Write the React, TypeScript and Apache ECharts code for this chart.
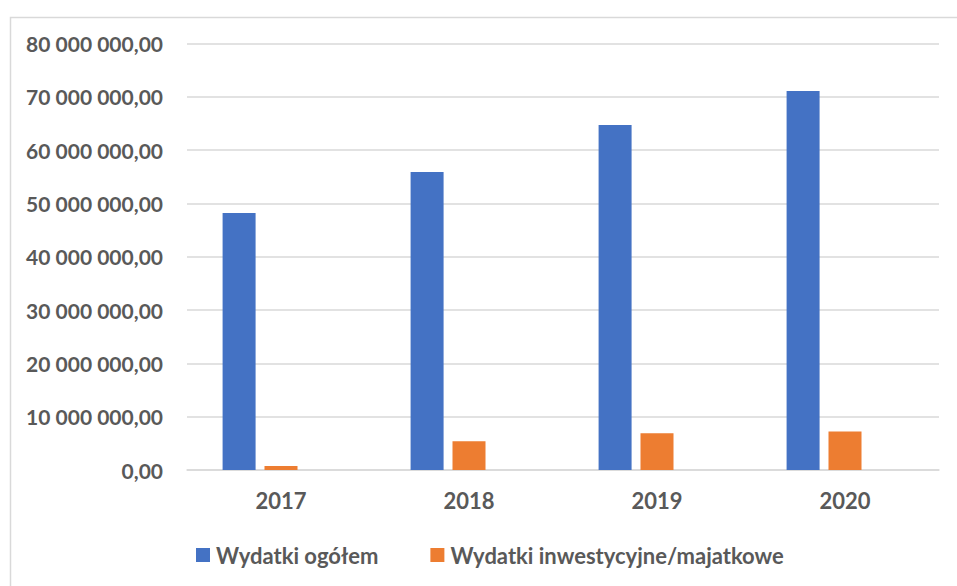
import React, { useEffect, useRef } from "react";
import * as echarts from "echarts";

const categories = ["2017", "2018", "2019", "2020"];
const seriesNames = ["Wydatki ogółem", "Wydatki inwestycyjne/majatkowe"];
const totalSpending = [48200000, 55900000, 64700000, 71100000];
const investmentSpending = [750000, 5400000, 6900000, 7200000];
const emptySeries = [0, 0, 0, 0];
const yMin = 0;
const yMax = 80000000;
const yInterval = 10000000;

function formatPl(v: number): string {
  const intPart = Math.round(v).toString().replace(/\B(?=(\d{3})+(?!\d))/g, " ");
  return intPart + ",00";
}

export default function App() {
  const ref = useRef<HTMLDivElement>(null);
  useEffect(() => {
    document.body.style.margin = "0";
    if (!ref.current) return;
    const chart = echarts.init(ref.current, null, { renderer: "svg" });
    const font = "Lato";
    const textColor = "#595959";
    chart.setOption({
      animation: false,
      backgroundColor: "#ffffff",
      textStyle: { fontFamily: font },
      graphic: [
        {
          type: "rect",
          left: 8,
          top: 15,
          shape: { x: 0, y: 0, width: 980, height: 600 },
          style: { fill: "none", stroke: "#d9d9d9", lineWidth: 1.5 },
          silent: true,
        },
      ],
      grid: { left: 187, right: 18, top: 43.5, bottom: 116, containLabel: false },
      legend: {
        data: seriesNames,
        left: 196,
        top: 544,
        padding: 0,
        itemWidth: 14,
        itemHeight: 14,
        itemGap: 52,
        icon: "rect",
        textStyle: { color: textColor, fontSize: 22, fontWeight: "bold", fontFamily: font, padding: [0, 0, 0, 1] },
      },
      xAxis: {
        type: "category",
        data: categories,
        axisLine: { show: true, lineStyle: { color: "#d9d9d9", width: 1.5 } },
        axisTick: { show: false },
        axisLabel: { color: textColor, fontSize: 22, fontWeight: "bold", fontFamily: font, margin: 19 },
      },
      yAxis: {
        type: "value",
        min: yMin,
        max: yMax,
        interval: yInterval,
        axisLine: { show: false },
        axisTick: { show: false },
        splitLine: { lineStyle: { color: "#d9d9d9", width: 1.5 } },
        axisLabel: {
          color: textColor,
          fontSize: 21,
          fontWeight: "bold",
          fontFamily: font,
          margin: 24,
          formatter: (v: number) => formatPl(v),
        },
      },
      series: [
        {
          name: seriesNames[0],
          type: "bar",
          data: totalSpending,
          barWidth: 33,
          barGap: "27%",
          itemStyle: { color: "#4472C4" },
        },
        {
          name: seriesNames[1],
          type: "bar",
          data: investmentSpending,
          barWidth: 33,
          barGap: "27%",
          itemStyle: { color: "#ED7D31" },
        },
        {
          name: "",
          type: "bar",
          data: emptySeries,
          barWidth: 33,
          barGap: "27%",
          itemStyle: { color: "transparent" },
          silent: true,
        },
      ],
    });
    return () => chart.dispose();
  }, []);
  return <div ref={ref} style={{ width: 957, height: 586 }} />;
}
